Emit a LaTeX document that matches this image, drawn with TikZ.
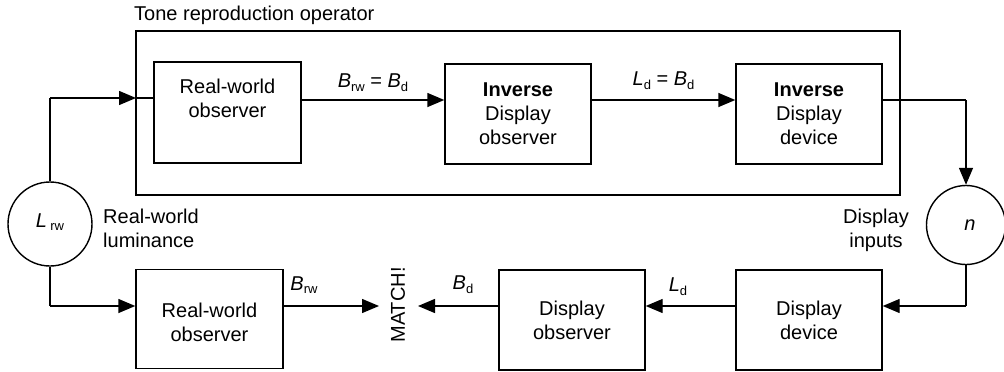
\documentclass[tikz,border=0pt]{standalone}
\usepackage{fontspec}
\setmainfont{Liberation Sans}
\usetikzlibrary{arrows.meta}
\newcommand{\sbs}[1]{\raisebox{-0.35ex}{\fontsize{13}{13}\selectfont #1}}
\newcommand{\var}[2]{\textit{#1}\sbs{#2}}
\begin{document}
\begin{tikzpicture}[x=1pt,y=-1pt,
  every node/.style={font=\fontsize{20}{24}\selectfont, inner sep=0pt},
  ln/.style={line width=1.4pt},
  blk/.style={draw, ln, minimum width=146pt, minimum height=100pt, align=center},
  circ/.style={draw, ln, circle},
  arr/.style={ln, -{Triangle[length=17pt,width=14pt]}},
  lbl/.style={align=center}
]
\useasboundingbox (0,0) rectangle (1004,372);
% outer operator box
\node[draw, ln, minimum width=764pt, minimum height=164pt] (outer) at (518,113) {};
\node[anchor=west] (title) at (134,15) {Tone reproduction operator};
% top row
\node[blk, minimum width=147pt, minimum height=101pt] (b1) at (227.5,112.5) {Real-world\\observer\\[4pt]};
\node[blk] (b2) at (518,114) {\textbf{Inverse}\\Display\\observer};
\node[blk] (b3) at (809,114) {\textbf{Inverse}\\Display\\device};
% bottom row
\node[blk, minimum width=147pt, minimum height=99pt] (b4) at (209.5,319) {\\[-2pt]Real-world\\observer};
\node[blk] (b5) at (572,320) {Display\\observer};
\node[blk] (b6) at (809,320) {Display\\device};
% circles
\node[circ, minimum size=84pt] (lrw) at (50,224) {};
\node (lrwt) at (50,222) {\textit{L}\,\sbs{rw}};
\node[circ, minimum size=79pt] (n) at (966,225) {};
\node (nt) at (970,225) {\textit{n}};
% side labels
\node[anchor=west, align=left] (lum) at (103,228) {Real-world\\luminance};
\node[align=center] (din) at (876,230) {Display\\inputs};
% MATCH
\node[rotate=90] (match) at (398,305) {MATCH!};
% connector coordinates
\coordinate (c1) at (50,98);
\coordinate (c2) at (136,98);
\coordinate (c3) at (966,100);
\coordinate (c4) at (50,306);
\coordinate (c5) at (966,306);
\coordinate (m1) at (379,306);
\coordinate (m2) at (418,306);
% top connectors
\draw[ln] (lrw.north) -- (c1);
\draw[arr] (c1) -- (c2);
\draw[ln] (c2) -- (b1.west |- c2);
\draw[arr] (b1.east |- 0,100) -- node[above=8pt] (l1) {\var{B}{rw} = \var{B}{d}} (b2.west |- 0,100);
\draw[arr] (b2.east |- 0,100) -- node[above=10pt] (l2) {\var{L}{d} = \var{B}{d}} (b3.west |- 0,100);
\draw[ln] (b3.east |- 0,100) -- (c3);
\draw[arr] (c3) -- (n.north);
% bottom connectors
\draw[ln] (lrw.south) -- (c4);
\draw[arr] (c4) -- (b4.west |- c4);
\draw[ln] (n.south) -- (c5);
\draw[arr] (c5) -- (b6.east |- c5);
\draw[arr] (b6.west |- c5) -- (b5.east |- c5);
\node (l3) at (678,287) {\var{L}{d}};
\draw[arr] (b5.west |- c5) -- (m2);
\node (l4) at (463,285) {\var{B}{d}};
\draw[arr] (b4.east |- c5) -- (m1);
\node (l5) at (304,285) {\var{B}{rw}};
\end{tikzpicture}
\end{document}
